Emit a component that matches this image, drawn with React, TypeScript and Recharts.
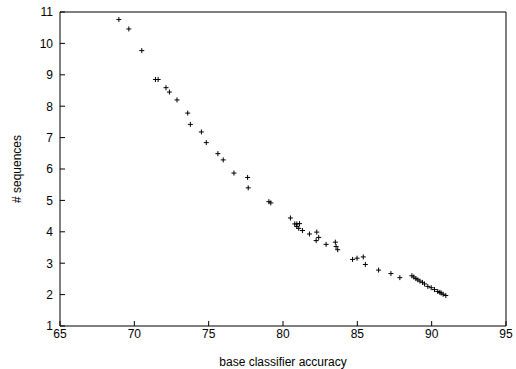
import { ScatterChart, Scatter, XAxis, YAxis } from "recharts";

const accuracy = [
  68.96, 69.63, 70.5, 71.42, 71.6, 72.13, 72.36, 72.87, 73.59, 73.77, 74.51, 74.84,
  75.62, 75.98, 76.7, 77.62, 77.66, 79.05, 79.18, 80.5, 80.79, 80.93, 81.11, 80.93,
  81.06, 81.31, 81.78, 82.27, 82.4, 82.23, 82.9, 83.52, 83.57, 83.68, 84.68, 84.98,
  85.4, 85.54, 86.43, 87.26, 87.86, 88.67, 88.8, 88.94, 89.07, 89.21, 89.38, 89.52,
  89.74, 89.97, 90.19, 90.41, 90.55, 90.64, 90.77, 90.95,
];
const sequences = [
  10.76, 10.46, 9.77, 8.85, 8.85, 8.59, 8.45, 8.2, 7.78, 7.42, 7.18, 6.84,
  6.49, 6.29, 5.87, 5.73, 5.4, 4.96, 4.92, 4.44, 4.25, 4.25, 4.26, 4.17,
  4.11, 4.04, 3.93, 3.99, 3.82, 3.72, 3.6, 3.67, 3.53, 3.43, 3.12, 3.16,
  3.2, 2.96, 2.78, 2.67, 2.54, 2.6, 2.56, 2.51, 2.47, 2.43, 2.39, 2.34,
  2.26, 2.22, 2.16, 2.1, 2.07, 2.05, 2.01, 1.97,
];
const xTicks = [65, 70, 75, 80, 85, 90, 95];
const yTicks = [1, 2, 3, 4, 5, 6, 7, 8, 9, 10, 11];

const data = accuracy.map((a, i) => ({ acc: a, seq: sequences[i] }));

const font = "'Liberation Sans', Arial, sans-serif";
const TICK = 5;

const BottomTick = ({ x, y, payload }: any) => (
  <g>
    <line x1={x} y1={y} x2={x} y2={y - TICK} stroke="#000" />
    <text x={x} y={y + 11.5} textAnchor="middle" fontSize={12} fontFamily={font} fill="#000">
      {payload.value}
    </text>
  </g>
);

const TopTick = ({ x, y }: any) => (
  <line x1={x} y1={y} x2={x} y2={y + TICK} stroke="#000" />
);

const LeftTick = ({ x, y, payload }: any) => (
  <g>
    <line x1={x} y1={y} x2={x + TICK} y2={y} stroke="#000" />
    <text x={x - 7} y={y + 4.3} textAnchor="end" fontSize={12} fontFamily={font} fill="#000">
      {payload.value}
    </text>
  </g>
);

const RightTick = ({ x, y }: any) => (
  <line x1={x} y1={y} x2={x - TICK} y2={y} stroke="#000" />
);

// gnuplot style "+" marker
const Plus = ({ cx, cy }: any) => (
  <g>
    <line x1={cx - 2.5} y1={cy} x2={cx + 2.5} y2={cy} stroke="#000" />
    <line x1={cx} y1={cy - 2.5} x2={cx} y2={cy + 2.5} stroke="#000" />
  </g>
);

const XLabel = ({ viewBox }: any) => (
  <text
    x={viewBox.x + viewBox.width / 2}
    y={viewBox.y + 40}
    textAnchor="middle"
    fontSize={12}
    fontFamily={font}
    fill="#000"
  >
    base classifier accuracy
  </text>
);

const YLabel = ({ viewBox }: any) => {
  const cx = viewBox.x + 17;
  const cy = viewBox.y + viewBox.height / 2;
  return (
    <text
      x={cx}
      y={cy}
      transform={`rotate(-90 ${cx} ${cy})`}
      textAnchor="middle"
      dominantBaseline="central"
      fontSize={12}
      fontFamily={font}
      fill="#000"
    >
      # sequences
    </text>
  );
};

export default function App() {
  return (
    <div style={{ position: "absolute", left: 0, top: 0, background: "#fff" }}>
      <ScatterChart width={516} height={369} margin={{ top: 11, right: 9, bottom: 0, left: 0 }}>
        <XAxis
          xAxisId="b"
          type="number"
          dataKey="acc"
          domain={[65, 95]}
          ticks={xTicks}
          orientation="bottom"
          height={43}
          tickSize={0}
          tickMargin={0}
          tick={<BottomTick />}
          axisLine={{ stroke: "#000" }}
          tickLine={false}
          label={<XLabel />}
        />
        <XAxis
          xAxisId="t"
          type="number"
          dataKey="acc"
          domain={[65, 95]}
          ticks={xTicks}
          orientation="top"
          height={1}
          tickSize={0}
          tickMargin={0}
          tick={<TopTick />}
          axisLine={{ stroke: "#000" }}
          tickLine={false}
        />
        <YAxis
          yAxisId="l"
          type="number"
          dataKey="seq"
          domain={[1, 11]}
          ticks={yTicks}
          orientation="left"
          width={60}
          tickSize={0}
          tickMargin={0}
          tick={<LeftTick />}
          axisLine={{ stroke: "#000" }}
          tickLine={false}
          label={<YLabel />}
        />
        <YAxis
          yAxisId="r"
          type="number"
          dataKey="seq"
          domain={[1, 11]}
          ticks={yTicks}
          orientation="right"
          width={1}
          tickSize={0}
          tickMargin={0}
          tick={<RightTick />}
          axisLine={{ stroke: "#000" }}
          tickLine={false}
        />
        <Scatter
          data={data}
          xAxisId="b"
          yAxisId="l"
          shape={<Plus />}
          isAnimationActive={false}
        />
      </ScatterChart>
    </div>
  );
}
